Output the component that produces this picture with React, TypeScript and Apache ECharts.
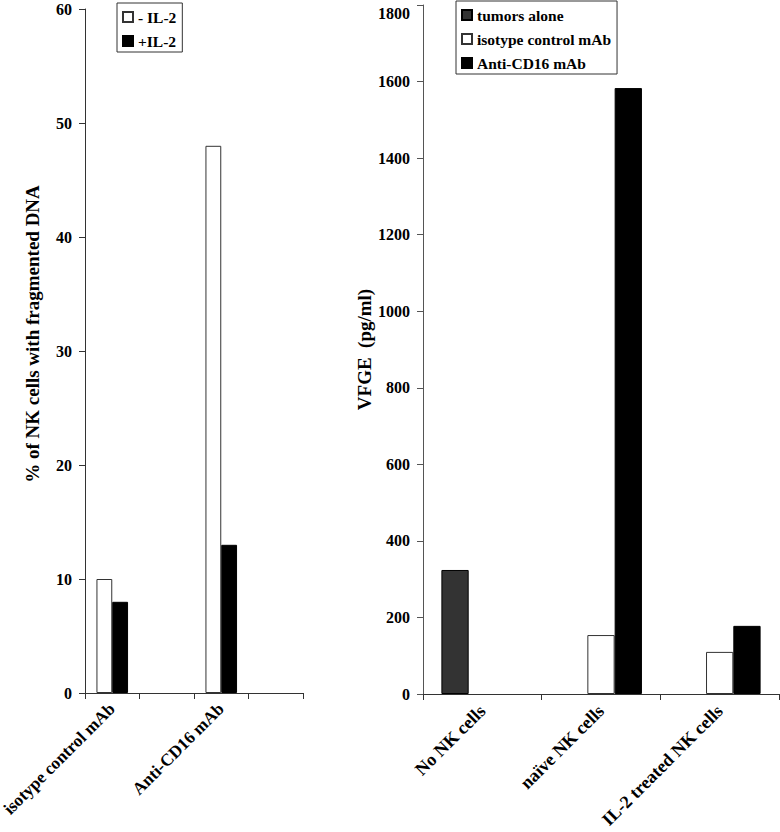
import React, { useEffect, useRef } from "react";
import * as echarts from "echarts";

const leftCategories = ["isotype control mAb", "", "Anti-CD16 mAb", ""];
const minusIL2 = [10, "-", 48, "-"];
const plusIL2 = [8, "-", 13, "-"];

const rightCategories = ["No NK cells", "naïve NK cells", "IL-2 treated NK cells"];
const tumorsAlone = [324, "-", "-"];
const isotypeCtrl = ["-", 154, 110];
const antiCD16 = ["-", 1583, 178];

const FONT = "Liberation Serif, Times New Roman, serif";

export default function App() {
  const ref = useRef<HTMLDivElement>(null);
  useEffect(() => {
    if (!ref.current) return;
    const chart = echarts.init(ref.current, null, { renderer: "svg" });
    const axisLine = { show: true, lineStyle: { color: "#333", width: 1 } };
    const bold = { fontFamily: FONT, fontWeight: "bold" as const, color: "#000" };
    const tickLabel = { ...bold, fontSize: 16 };
    const catLabel = { ...bold, fontSize: 18 };
    const nameStyle = { ...bold, fontSize: 19 };
    const legendCommon = {
      orient: "vertical" as const,
      backgroundColor: "#fff",
      borderColor: "#333",
      borderWidth: 1,
      itemWidth: 10,
      itemHeight: 10,
      icon: "rect",
      textStyle: { ...bold, fontSize: 15.5 },
      selectedMode: false,
    };
    chart.setOption({
      animation: false,
      textStyle: { fontFamily: FONT },
      legend: [
        {
          ...legendCommon,
          left: 117,
          top: 3,
          padding: [6, 6, 3, 5],
          itemGap: 8,
          data: ["- IL-2", "+IL-2"],
        },
        {
          ...legendCommon,
          left: 456,
          top: 1,
          padding: [6, 6, 3, 5],
          itemGap: 8,
          data: ["tumors alone", "isotype control mAb", "Anti-CD16 mAb"],
        },
      ],
      grid: [
        { left: 85, top: 9, width: 218, height: 684, containLabel: false, outerBoundsMode: "none" },
        { left: 423, top: 5, width: 356, height: 689, containLabel: false, outerBoundsMode: "none" },
      ],
      xAxis: [
        {
          type: "category",
          gridIndex: 0,
          data: leftCategories,
          axisLine,
          axisTick: { show: true, length: 6, interval: 0, lineStyle: { color: "#333" } },
          axisLabel: { ...catLabel, fontSize: 17.3, rotate: 45, interval: 0, margin: 13 },
        },
        {
          type: "category",
          gridIndex: 1,
          data: rightCategories,
          axisLine,
          axisTick: { show: true, length: 6, interval: 0, lineStyle: { color: "#333" } },
          axisLabel: { ...catLabel, rotate: 45, interval: 0, margin: 14 },
        },
      ],
      yAxis: [
        {
          type: "value",
          gridIndex: 0,
          min: 0,
          max: 60,
          interval: 10,
          name: "% of NK cells with fragmented DNA",
          nameLocation: "middle",
          nameGap: 43,
          nameTextStyle: { ...nameStyle, padding: [0, 0, 0, 34] },
          axisLine,
          axisTick: { show: true, length: 6, lineStyle: { color: "#333" } },
          axisLabel: { ...tickLabel, margin: 13 },
          splitLine: { show: false },
        },
        {
          type: "value",
          gridIndex: 1,
          min: 0,
          max: 1800,
          interval: 200,
          name: "VFGE  (pg/ml)",
          nameLocation: "middle",
          nameGap: 38,
          nameTextStyle: nameStyle,
          axisLine: { show: true, lineStyle: { color: "#555", width: 1 } },
          axisTick: { show: true, length: 6, lineStyle: { color: "#555" } },
          axisLabel: {
            ...tickLabel,
            margin: 13,
            verticalAlignMaxLabel: "top",
            formatter: (v: number) => String(v),
          },
          splitLine: { show: false },
        },
      ],
      series: [
        {
          name: "- IL-2",
          type: "bar",
          xAxisIndex: 0,
          yAxisIndex: 0,
          data: minusIL2,
          barWidth: "29%",
          barGap: "0%",
          itemStyle: { color: "#fff", borderColor: "#333", borderWidth: 1 },
        },
        {
          name: "+IL-2",
          type: "bar",
          xAxisIndex: 0,
          yAxisIndex: 0,
          data: plusIL2,
          barWidth: "29%",
          barGap: "0%",
          itemStyle: { color: "#000", borderColor: "#000", borderWidth: 1 },
        },
        {
          name: "tumors alone",
          type: "bar",
          xAxisIndex: 1,
          yAxisIndex: 1,
          data: tumorsAlone,
          barWidth: "23%",
          barGap: "0%",
          itemStyle: { color: "#333", borderColor: "#000", borderWidth: 1 },
        },
        {
          name: "isotype control mAb",
          type: "bar",
          xAxisIndex: 1,
          yAxisIndex: 1,
          data: isotypeCtrl,
          barWidth: "23%",
          barGap: "0%",
          itemStyle: { color: "#fff", borderColor: "#333", borderWidth: 1 },
        },
        {
          name: "Anti-CD16 mAb",
          type: "bar",
          xAxisIndex: 1,
          yAxisIndex: 1,
          data: antiCD16,
          barWidth: "23%",
          barGap: "0%",
          itemStyle: { color: "#000", borderColor: "#000", borderWidth: 1 },
        },
      ],
    });
    return () => chart.dispose();
  }, []);
  return (
    <div
      ref={ref}
      style={{ position: "fixed", left: 0, top: 0, width: 780, height: 832, background: "#fff" }}
    />
  );
}
